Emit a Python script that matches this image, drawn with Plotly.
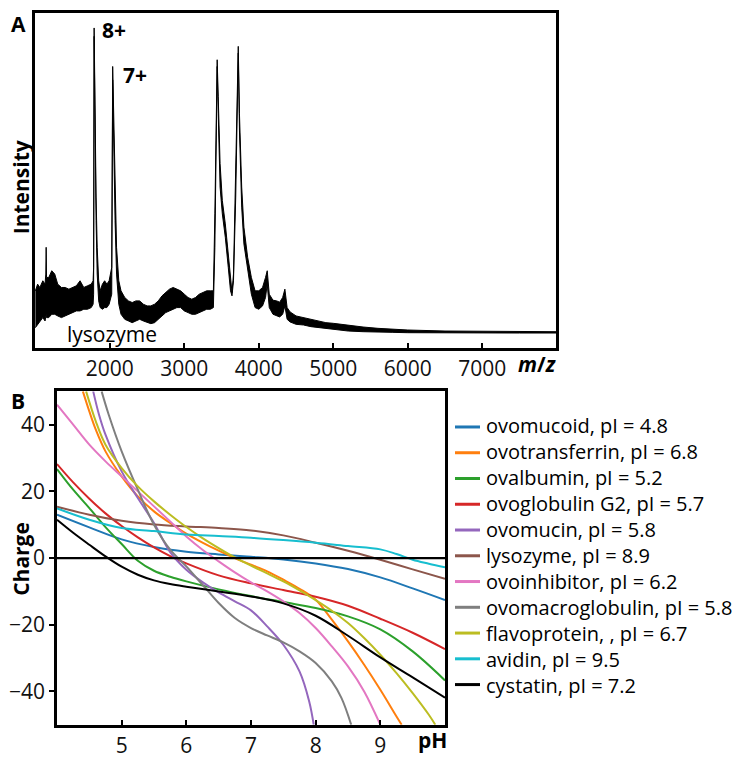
import plotly.graph_objects as go

W, H = 756, 759
FONT = "Open Sans"

# ---------------- Panel A: mass spectrum (upper / lower envelope of the noisy trace)
mz = [1000, 1030, 1060, 1100, 1130, 1140, 1145, 1150, 1180, 1220, 1260, 1300, 1350, 1400,
      1450, 1500, 1550, 1600, 1650, 1700, 1750, 1775, 1782, 1789, 1800, 1815, 1830, 1850,
      1870, 1900, 1930, 1960, 1990, 2025, 2038, 2050, 2070, 2090, 2120, 2150, 2200, 2250,
      2300, 2350, 2400, 2450, 2500, 2550, 2600, 2650, 2700, 2750, 2800, 2850, 2900, 2950,
      3000, 3050, 3100, 3150, 3200, 3250, 3300, 3350, 3390, 3410, 3430, 3441, 3455, 3480,
      3510, 3550, 3590, 3620, 3640, 3660, 3690, 3710, 3724, 3740, 3770, 3800, 3850, 3900,
      3950, 4000, 4050, 4090, 4113, 4140, 4190, 4240, 4280, 4320, 4350, 4380, 4420, 4500,
      4600, 4700, 4800, 4900, 5000, 5100, 5200, 5400, 5600, 5800, 6000, 6500, 7000, 7500, 7990]
upper = [17, 19, 18, 20, 19, 22, 30, 21, 21, 23, 22, 19, 18, 18,
         17.5, 18, 18.5, 20, 18, 18.5, 19, 20, 24, 95.5, 70, 45, 30, 20,
         17, 19, 20, 19, 20, 24, 84, 70, 45, 30, 20, 17, 15, 14,
         13.5, 14, 14, 13, 12.5, 12.5, 13, 14, 15.5, 16.5, 17.5, 18, 17.5, 17,
         16, 15, 14.5, 15, 16, 16.5, 17, 17, 17, 40, 75, 86, 75, 55,
         44, 37, 28, 20, 16.5, 22, 50, 78, 90, 70, 48, 36, 27, 21,
         17, 17, 18, 21, 23, 16, 14.2, 14, 13.6, 15, 17.5, 12, 10.7, 9.5,
         9, 8.5, 8.2, 7.5, 7.3, 7, 6.7, 6.2, 5.8, 5.5, 5.3, 5, 4.9, 4.8, 4.8]
lower = [6, 7, 8, 9, 8, 9, 10, 9, 9, 10, 10, 9.5, 9, 9.5,
         10, 10.5, 11, 11, 11.5, 11.5, 12, 13, 16, 93, 62, 38, 22, 14,
         12, 11.5, 12, 12, 13, 16, 80, 60, 38, 22, 13, 10, 8.5, 8,
         7.5, 8, 8.5, 8, 7.5, 7.2, 7.5, 8.5, 9.5, 10.5, 11, 11.5, 12, 12,
         11, 10.5, 10, 10, 10.5, 11, 11.5, 11.5, 12, 30, 70, 84, 70, 48,
         40, 33, 24, 17, 15.5, 20, 45, 74, 88, 65, 42, 31, 23, 16,
         12, 11.5, 12.5, 15, 19, 12, 10, 9.5, 9.2, 10, 12.5, 8.5, 7.7, 7,
         6.8, 6.3, 6, 5.7, 5.4, 5.2, 5, 4.8, 4.8, 4.6, 4.5, 4.4, 4.4, 4.4, 4.4]
mz_ticks = [2000, 3000, 4000, 5000, 6000, 7000]

# ---------------- Panel B: titration curves (pH, charge)
names = ["ovomucoid, pI = 4.8", "ovotransferrin, pI = 6.8", "ovalbumin, pI = 5.2",
         "ovoglobulin G2, pI = 5.7", "ovomucin, pI = 5.8", "lysozyme, pI = 8.9",
         "ovoinhibitor, pI = 6.2", "ovomacroglobulin, pI = 5.8", "flavoprotein, , pI = 6.7",
         "avidin, pI = 9.5", "cystatin, pI = 7.2"]
colors = ["#1f77b4", "#ff7f0e", "#2ca02c", "#d62728", "#9467bd", "#8c564b",
          "#e377c2", "#7f7f7f", "#bcbd22", "#17becf", "#000000"]

ph_ovomucoid = [4, 4.5, 5, 5.5, 6, 6.5, 7, 7.5, 8, 8.5, 9, 9.5, 10]
q_ovomucoid = [13, 9.2, 5.6, 3.3, 1.9, 1.1, 0.4, -0.4, -1.6, -3.3, -5.8, -9.1, -12.6]

ph_ovotransferrin = [4.40, 4.5, 4.6, 4.75, 5.0, 5.25, 5.5, 5.75, 6.0, 6.25, 6.5, 6.75, 7.0,
                     7.25, 7.5, 7.75, 8.0, 8.25, 8.5, 8.75, 9.0, 9.25, 9.33]
q_ovotransferrin = [50, 44, 38.5, 32, 24.5, 18.5, 14, 10.5, 7.3, 4.6, 2.2, 0, -2,
                    -4, -6.5, -9.2, -12.5, -18.5, -25, -32, -39.5, -47.5, -50]

ph_ovalbumin = [4, 4.25, 4.5, 4.75, 5, 5.25, 5.5, 5.75, 6, 6.5, 7, 7.5, 8, 8.5, 9, 9.5, 10]
q_ovalbumin = [26.7, 20.5, 15, 9.3, 4.2, -0.8, -3.8, -5.6, -7.0, -9.4, -11.4, -13.2, -15,
               -17.5, -21.4, -28, -36.7]

ph_ovoglobulin = [4, 4.25, 4.5, 4.75, 5, 5.25, 5.5, 5.75, 6, 6.5, 7, 7.5, 8, 8.5, 9, 9.5, 10]
q_ovoglobulin = [28.2, 22.7, 17.8, 13.4, 9.6, 6.2, 3.2, 0.6, -1.6, -5.2, -7.6, -9.6, -11.6,
                 -14.3, -18.2, -22.4, -27.3]

ph_ovomucin = [4.56, 4.65, 4.75, 5, 5.25, 5.5, 5.75, 6, 6.25, 6.5, 6.75, 7, 7.25, 7.5,
               7.75, 7.9, 7.97]
q_ovomucin = [50, 43, 37, 26, 18, 10.5, 1.8, -3.5, -7.2, -10.3, -13, -15.7, -20.5, -26,
              -34, -43, -50]

ph_lysozyme = [4, 4.5, 5, 5.5, 6, 6.5, 7, 7.5, 8, 8.5, 9, 9.5, 10]
q_lysozyme = [15.4, 13, 11.2, 10.1, 9.5, 9, 8.3, 6.8, 4.6, 2.2, -0.5, -3.4, -6.2]

ph_ovoinhibitor = [4, 4.25, 4.5, 4.75, 5, 5.25, 5.5, 5.75, 6, 6.25, 6.5, 6.75, 7, 7.25,
                   7.5, 7.75, 8, 8.25, 8.5, 8.75, 9]
q_ovoinhibitor = [46, 40, 34, 29, 24.5, 20, 15.5, 11, 6.5, 2.5, -1, -4.3, -7.3, -10,
                  -13, -16.5, -21, -26.5, -32.5, -40, -50]

ph_ovomacroglobulin = [4.69, 4.8, 5, 5.25, 5.5, 5.75, 6, 6.25, 6.5, 6.75, 7, 7.25, 7.5,
                       7.75, 8, 8.25, 8.4, 8.55]
q_ovomacroglobulin = [50, 43, 32, 20.5, 10, 2.5, -2.5, -8, -13.5, -18, -21, -23.2, -25.3,
                      -28, -31.5, -37, -42, -50]

ph_flavoprotein = [4.45, 4.6, 4.75, 5, 5.25, 5.5, 5.75, 6, 6.25, 6.5, 6.75, 7, 7.25, 7.5,
                   7.75, 8, 8.25, 8.5, 8.75, 9, 9.25, 9.5, 9.75, 9.85]
q_flavoprotein = [50, 41, 34, 27, 21.5, 17, 13, 9.3, 6, 3, 0.2, -2.3, -4.6, -7, -9.7,
                  -12.6, -15.8, -19.5, -24, -29, -34.5, -40.5, -47, -50]

ph_avidin = [4, 4.5, 5, 5.5, 6, 6.5, 7, 7.5, 8, 8.5, 9, 9.25, 9.5, 9.75, 10]
q_avidin = [14.9, 11.5, 9, 8.1, 7.1, 6.6, 6.1, 5.4, 4.6, 3.6, 2.6, 1.2, -0.5, -1.7, -2.8]

ph_cystatin = [4, 4.25, 4.5, 4.75, 5, 5.25, 5.5, 5.75, 6, 6.5, 7, 7.5, 8, 8.5, 9, 9.5, 10]
q_cystatin = [11.5, 7.6, 4, 0.5, -2.6, -5, -6.7, -7.8, -8.6, -10, -11.5, -13.6, -17.3,
              -23.3, -29.8, -35.8, -41.9]

ph_list = [ph_ovomucoid, ph_ovotransferrin, ph_ovalbumin, ph_ovoglobulin, ph_ovomucin,
           ph_lysozyme, ph_ovoinhibitor, ph_ovomacroglobulin, ph_flavoprotein, ph_avidin,
           ph_cystatin]
q_list = [q_ovomucoid, q_ovotransferrin, q_ovalbumin, q_ovoglobulin, q_ovomucin,
          q_lysozyme, q_ovoinhibitor, q_ovomacroglobulin, q_flavoprotein, q_avidin,
          q_cystatin]

ph_ticks = [5, 6, 7, 8, 9]
charge_ticks = [-40, -20, 0, 20, 40]


def px(x):
    return x / W


def py(y):
    return 1 - y / H


fig = go.Figure()

# spectrum band
fig.add_trace(go.Scatter(x=mz, y=lower, mode="lines", line=dict(color="black", width=1),
                         xaxis="x", yaxis="y", showlegend=False, hoverinfo="skip"))
fig.add_trace(go.Scatter(x=mz, y=upper, mode="lines", line=dict(color="black", width=1),
                         fill="tonexty", fillcolor="black",
                         xaxis="x", yaxis="y", showlegend=False, hoverinfo="skip"))

for name, color, xs, ys in zip(names, colors, ph_list, q_list):
    fig.add_trace(go.Scatter(x=xs, y=ys, mode="lines", name=name, showlegend=False,
                             line=dict(color=color, width=2, shape="spline", smoothing=1.0),
                             xaxis="x2", yaxis="y2"))

axis_common = dict(showline=True, mirror=True, linecolor="black", linewidth=2.5,
                   showgrid=False, zeroline=False, tickcolor="black", tickwidth=1.5, ticklen=5,
                   tickfont=dict(family=FONT, size=21, color="#111"))

fig.update_layout(
    width=W, height=H, margin=dict(l=0, r=0, t=0, b=0),
    paper_bgcolor="white", plot_bgcolor="white",
    font=dict(family=FONT, color="black"),
    xaxis=dict(domain=[px(35), px(556)], range=[995, 7990], tickvals=mz_ticks,
               ticks="inside", anchor="y", **axis_common),
    yaxis=dict(domain=[py(351), py(13)], range=[0, 100], showticklabels=False,
               ticks="", anchor="x", **axis_common),
    xaxis2=dict(domain=[px(57), px(445)], range=[4, 10], tickvals=ph_ticks,
                ticks="inside", anchor="y2", **axis_common),
    yaxis2=dict(domain=[py(731.5), py(395)], range=[-50, 50], tickvals=charge_ticks,
                ticks="outside", anchor="x2", **axis_common),
    showlegend=False,
)

# zero line in panel B
fig.add_shape(type="line", xref="x2 domain", yref="y2", x0=0, x1=1, y0=0, y1=0,
              line=dict(color="black", width=2.2))

# legend: one multi-line text block plus a line sample per series
LEG_FS = 20
line_h = LEG_FS * 1.3
center_y = 431.7 + 5 * 25.85
n = len(names)
for i, color in enumerate(colors):
    yc = center_y + (i - (n - 1) / 2) * line_h
    fig.add_shape(type="line", xref="paper", yref="paper", x0=px(455), x1=px(480),
                  y0=py(yc), y1=py(yc), line=dict(color=color, width=3))
fig.add_annotation(text="<br>".join(names), x=px(484), y=py(center_y),
                   xref="paper", yref="paper", showarrow=False, align="left",
                   xanchor="left", yanchor="middle",
                   font=dict(family=FONT, size=LEG_FS, color="black"))

ann = [
    dict(text="<b>A</b>", x=px(18), y=py(24)),
    dict(text="<b>B</b>", x=px(18), y=py(405)),
    dict(text="<b>8+</b>", x=px(114), y=py(30)),
    dict(text="<b>7+</b>", x=px(135), y=py(76)),
    dict(text="lysozyme", x=px(112), y=py(337)),
    dict(text="<b><i>m</i>/<i>z</i></b>", x=px(537), y=py(367)),
    dict(text="<b>pH</b>", x=px(432), y=py(747)),
]
for a in ann:
    fig.add_annotation(text=a["text"], x=a["x"], y=a["y"], xref="paper", yref="paper",
                       showarrow=False, xanchor="center", yanchor="middle",
                       font=dict(family=FONT, size=21, color="black"))

fig.add_annotation(text="<b>Intensity</b>", x=px(21), y=py(189), xref="paper", yref="paper",
                   showarrow=False, textangle=-90, xanchor="center", yanchor="middle",
                   font=dict(family=FONT, size=21, color="black"))
fig.add_annotation(text="<b>Charge</b>", x=px(21), y=py(564), xref="paper", yref="paper",
                   showarrow=False, textangle=-90, xanchor="center", yanchor="middle",
                   font=dict(family=FONT, size=21, color="black"))

fig.write_html("out.html")
